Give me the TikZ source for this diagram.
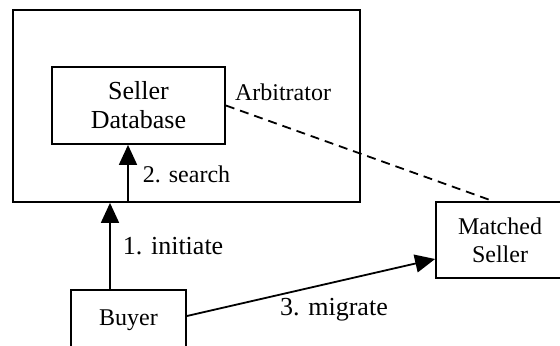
\documentclass[tikz,border=0pt]{standalone}
\usepackage{fontspec}
\setmainfont{Liberation Serif}
\usetikzlibrary{arrows.meta,positioning}

\begin{document}
\begin{tikzpicture}[x=0.5pt, y=-0.5pt,
  box/.style={rectangle, draw, line width=0.9pt, align=center, inner sep=0pt, font=\fontsize{12}{13.8}\selectfont},
  lbl/.style={font=\fontsize{12}{13.8}\selectfont, inner sep=0pt},
  big/.style={font=\fontsize{13}{14.5}\selectfont},
  arr/.style={-{Triangle[length=10pt, width=9pt]}, line width=0.9pt}
]
  \clip (0,0) rectangle (560,346);
  \node[box, minimum width=173.5pt, minimum height=96pt] (arb) at (186.5,106) {};
  \node[box, big, minimum width=86.5pt, minimum height=38.5pt] (db) at (138.5,105.5) {Seller\\Database};
  \node[lbl] (arblabel) at (283,92) {Arbitrator};
  \node[box, minimum width=57.5pt, minimum height=30pt] (buyer) at (128.5,320) {Buyer};
  \node[box, minimum width=64pt, minimum height=38pt] (ms) at (500,240) {Matched\\Seller};

  \draw[arr] ([xshift=-5.25pt]db.south |- arb.south) -- node[lbl, right=7pt] {2. search} ([xshift=-5.25pt]db.south);
  \draw[arr] ([xshift=-9.25pt]buyer.north) -- node[lbl, big, right=6pt] {1. initiate} ([xshift=-9.25pt]buyer.north |- arb.south);
  \draw[line width=0.9pt, dash pattern=on 4.5pt off 3pt] (db.east) -- ([xshift=-3.5pt]ms.north);
  \draw[arr] ([yshift=2pt]buyer.east) -- ([yshift=-9.5pt]ms.west);
  \node[lbl, big] (migrate) at (334,310) {3. migrate};
\end{tikzpicture}
\end{document}
